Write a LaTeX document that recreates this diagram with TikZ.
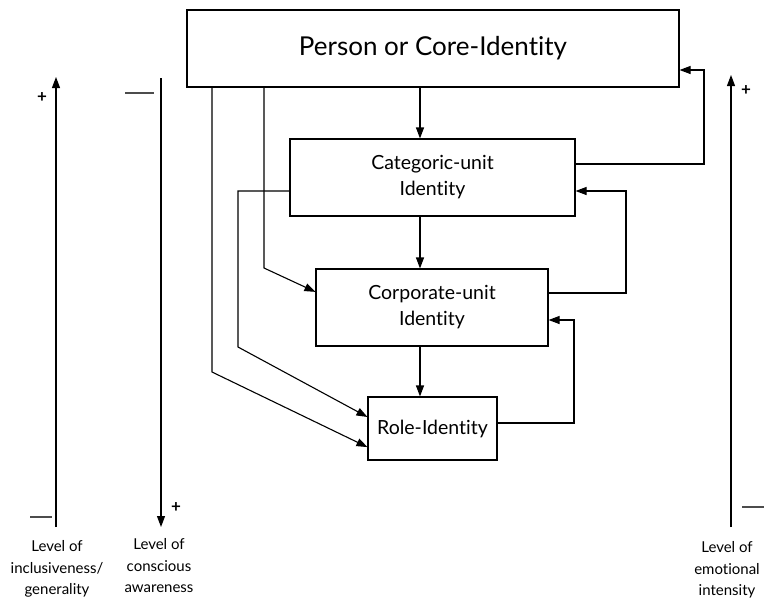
\documentclass[tikz,border=0pt]{standalone}
\usepackage{fontspec}
\setmainfont{Lato}[Ligatures=NoCommon]
\usetikzlibrary{arrows.meta,calc}
\begin{document}
\begin{tikzpicture}[x=1pt,y=-1pt,
  line width=1.1pt,
  idbox/.style={draw, line width=1.1pt, inner sep=0pt, align=center,
    font=\fontsize{19.5}{26}\selectfont},
  arr/.style={-{Triangle[length=11pt,width=8pt]}},
  axis/.style={line width=1.1pt},
  tick/.style={line width=1.2pt, draw=black!70},
  sign/.style={font=\fontsize{17}{17}\selectfont\bfseries, inner sep=0pt},
  axlabel/.style={align=center, inner sep=0pt, anchor=north,
    font=\fontsize{15}{21.5}\selectfont}]
\useasboundingbox (0,0) rectangle (769,603);

% identity boxes
\node[idbox, minimum width=492pt, minimum height=77pt,
  font=\fontsize{26}{30}\selectfont] (core) at (433,48.5) {Person or Core-Identity};
\node[idbox, minimum width=285pt, minimum height=77pt] (cat) at (432.5,177.5) {Categoric-unit\\Identity};
\node[idbox, minimum width=232pt, minimum height=77pt] (corp) at (432,307.5) {Corporate-unit\\Identity};
\node[idbox, minimum width=129pt, minimum height=63pt] (role) at (432.5,428.5) {Role-Identity};

% downward chain
\coordinate (mid) at (420,0);
\draw[arr] (core.south -| mid) -- (cat.north -| mid);
\draw[arr] (cat.south -| mid) -- (corp.north -| mid);
\draw[arr] (corp.south -| mid) -- (role.north -| mid);

% links on the left
\coordinate (l1) at (264,268);
\draw[arr] (core.south -| l1) -- (l1) -- ($(corp.north west)!0.3!(corp.south west)$);
\coordinate (l2) at (212,372);
\draw[arr] (core.south -| l2) -- (l2) -- ($(role.north west)!0.79!(role.south west)$);
\coordinate (l3a) at (238,191);
\coordinate (l3b) at (238,347);
\draw[arr] (cat.west |- l3a) -- (l3a) -- (l3b) -- ($(role.north west)!0.32!(role.south west)$);

% feedback on the right
\coordinate (r1a) at (704,164);
\coordinate (r1b) at (704,70);
\draw[arr] (cat.east |- r1a) -- (r1a) -- (r1b) -- (core.east |- r1b);
\coordinate (r2a) at (626,293);
\coordinate (r2b) at (626,191);
\draw[arr] (corp.east |- r2a) -- (r2a) -- (r2b) -- (cat.east |- r2b);
\coordinate (r3a) at (574,423);
\coordinate (r3b) at (574,320);
\draw[arr] (role.east |- r3a) -- (r3a) -- (r3b) -- (corp.east |- r3b);

% scales
\coordinate (a1b) at (56,527);  \coordinate (a1t) at (56,77);
\coordinate (a2t) at (161,78);  \coordinate (a2b) at (161,527);
\coordinate (a3b) at (731,527); \coordinate (a3t) at (731,75);
\draw[axis,arr] (a1b) -- (a1t);
\draw[axis,arr] (a2t) -- (a2b);
\draw[axis,arr] (a3b) -- (a3t);

\node[sign] (p1) at (42,98) {+};
\node[sign] (p2) at (176,508) {+};
\node[sign] (p3) at (746,91) {+};
\draw[tick] (30,517) -- (52,517);
\draw[tick] (125,93) -- (154,93);
\draw[tick] (742,507) -- (764,507);

\node[axlabel] (lab1) at (57,540) {Level of\\inclusiveness/\\generality};
\node[axlabel] (lab2) at (159,538) {Level of\\conscious\\awareness};
\node[axlabel] (lab3) at (727,541) {Level of\\emotional\\intensity};
\end{tikzpicture}
\end{document}
